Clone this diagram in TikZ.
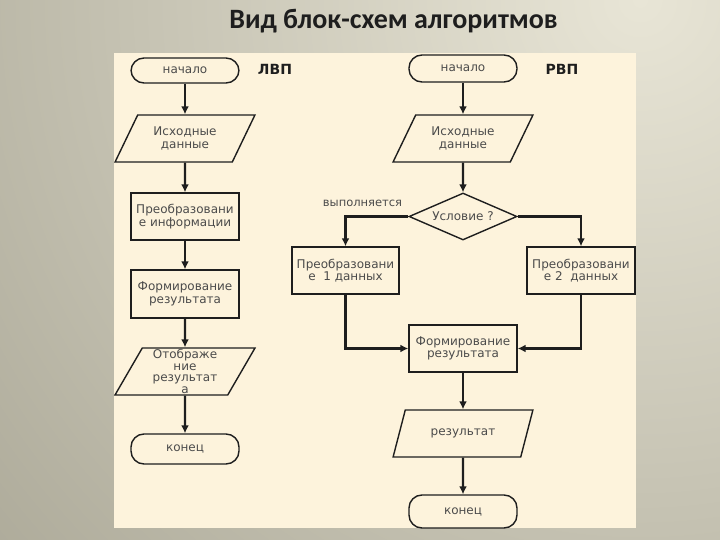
\documentclass[tikz,border=0pt]{standalone}
\usepackage{fontspec}
\usepackage{tikz}
\usetikzlibrary{shapes.geometric,arrows.meta}
\setmainfont{DejaVu Sans}
\newfontfamily\titlefont{Carlito}
\definecolor{bglight}{HTML}{E8E5D6}
\definecolor{bgdark}{HTML}{A4A190}
\definecolor{panel}{HTML}{FDF3DC}
\definecolor{ink}{HTML}{1E1E1E}

\begin{document}
\begin{tikzpicture}[x=1pt,y=-1pt,
  box/.style={draw=ink,line width=1.4pt,fill=panel,text=ink!80,align=center,inner sep=1pt,
    font=\fontsize{12}{12.5}\selectfont},
  proc/.style={box,rectangle,minimum width=108,minimum height=47},
  term/.style={box,rectangle,rounded corners=13,minimum width=108},
  io/.style={box,trapezium,trapezium left angle=58,trapezium right angle=122,
    trapezium stretches=true,minimum width=140,minimum height=47},
  cond/.style={box,diamond,aspect=2.3,inner sep=0pt,minimum width=108,minimum height=47},
  arr/.style={draw=ink,line width=2.2pt,-{Latex[length=8pt,width=8pt]}},
  head/.style={font=\bfseries\fontsize{14}{16}\selectfont,text=ink}]
\useasboundingbox (0,0) rectangle (720,540);
\begin{scope}
\clip (0,0) rectangle (720,540);
\shade[inner color=bglight,outer color=bgdark] (640,0) circle (1000);
\end{scope}
\fill[panel] (114,53) rectangle (636,528);

\node[font=\titlefont\bfseries\fontsize{28}{30}\selectfont,text=ink] (title) at (393.5,21) {Вид блок-схем алгоритмов};
\node[head] (lvp) at (275,69) {ЛВП};
\node[head] (rvp) at (562,69) {РВП};

% left chart
\node[term,minimum height=25] (lstart) at (185,70.5) {начало};
\node[io] (linput) at (185,138.5) {Исходные\\данные};
\node[proc] (lproc) at (185,216.5) {Преобразовани\\е информации};
\node[proc,minimum height=48] (lform) at (185,294) {Формирование\\результата};
\node[io,inner ysep=-5pt,font=\fontsize{12}{11.5}\selectfont] (lshow) at (185,371.5) {Отображе\\ние\\результат\\а};
\node[term,minimum height=30] (lend) at (185,449) {конец};
\foreach \a/\b in {lstart/linput,linput/lproc,lproc/lform,lform/lshow,lshow/lend}
  \draw[arr] (\a) -- (\b);

% right chart
\node[term,minimum height=27] (rstart) at (463,68.5) {начало};
\node[io] (rinput) at (463,138.5) {Исходные\\данные};
\node[cond] (rcond) at (463,216.5) {Условие ?};
\node[font=\fontsize{11.5}{12}\selectfont,text=ink!80] (ryes) at (362.5,203) {выполняется};
\node[proc,minimum width=107] (rone) at (345.5,270.5) {Преобразовани\\е~ 1 данных};
\node[proc] (rtwo) at (581,270.5) {Преобразовани\\е 2~ данных};
\node[proc] (rform) at (463,348.5) {Формирование\\результата};
\node[io] (rout) at (463,433.5) {результат};
\node[term,minimum height=33] (rend) at (463,511.5) {конец};
\foreach \a/\b in {rstart/rinput,rinput/rcond,rform/rout,rout/rend}
  \draw[arr] (\a) -- (\b);
\draw[arr] (rcond.west) -| (rone.north);
\draw[arr] (rcond.east) -| (rtwo.north);
\draw[arr] (rone.south) |- (rform.west);
\draw[arr] (rtwo.south) |- (rform.east);
\end{tikzpicture}
\end{document}
